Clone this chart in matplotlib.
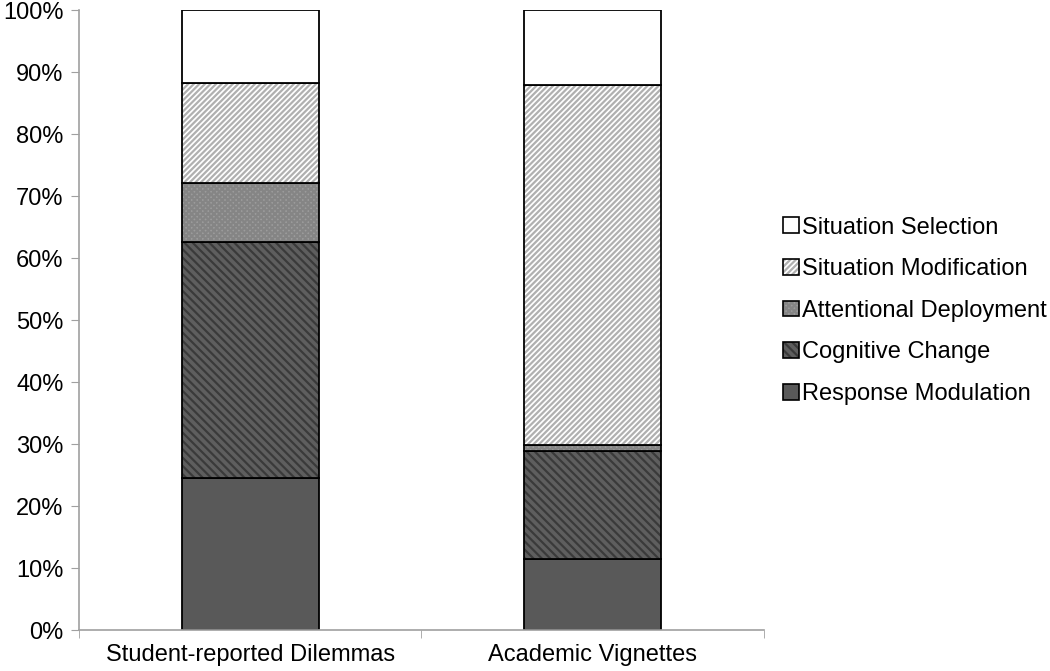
import matplotlib.pyplot as plt
from matplotlib.legend_handler import HandlerTuple
import numpy as np

plt.rcParams['font.family'] = ['Liberation Sans', 'DejaVu Sans']
plt.rcParams['hatch.linewidth'] = 1.6

categories = ["Student-reported Dilemmas", "Academic Vignettes"]
series = ["Response Modulation", "Cognitive Change", "Attentional Deployment",
          "Situation Modification", "Situation Selection"]
response = [24.5, 11.5]
cognitive = [38.1, 17.4]
attentional = [9.5, 0.9]
modification = [16.1, 58.1]
selection = [11.8, 12.1]

# fill colour, hatch, hatch colour
styles = [
    ("#595959", None, "#595959"),
    ("#5e5e5e", "\\\\\\\\", "#3a3a3a"),
    ("#9c9c9c", "xxxxxx", "#858585"),
    ("white", "//////", "#b0b0b0"),
    ("white", None, "white"),
]

fig = plt.figure(figsize=(10.5, 6.71), dpi=100)
ax = fig.add_axes([0.0752, 0.061, 0.652, 0.924])

x = np.arange(len(categories))
w = 0.4
bottom = np.zeros(len(categories))
handles = []
for vals, name, (fc, h, hc) in zip([response, cognitive, attentional, modification, selection], series, styles):
    vals = np.array(vals)
    ax.bar(x, vals, w, bottom=bottom, color=fc, hatch=h, edgecolor=hc, linewidth=0)
    ax.bar(x, vals, w, bottom=bottom, fill=False, edgecolor="black", linewidth=1.3)
    inner = plt.Rectangle((0, 0), 1, 1, facecolor=fc, hatch=h, edgecolor=hc, linewidth=0)
    outer = plt.Rectangle((0, 0), 1, 1, fill=False, edgecolor="black", linewidth=1.2)
    handles.append((inner, outer))
    bottom += vals

ax.set_xlim(-0.5, 1.5)
ax.set_ylim(0, 100)
ax.set_yticks(np.arange(0, 101, 10))
ax.set_yticklabels([f"{v}%" for v in range(0, 101, 10)], fontsize=17)
ax.set_xticks(x)
ax.set_xticklabels(categories, fontsize=17)
ax.tick_params(axis='x', which='major', length=0, pad=10)
ax.set_xticks([-0.5, 0.5, 1.5], minor=True)
ax.tick_params(axis='x', which='minor', length=6, color="#a0a0a0")
ax.tick_params(axis='y', length=6, color="#a0a0a0", pad=5)
for s in ["top", "right"]:
    ax.spines[s].set_visible(False)
for s in ["left", "bottom"]:
    ax.spines[s].set_color("#a0a0a0")
    ax.spines[s].set_linewidth(1.2)

ax.legend(handles[::-1], series[::-1], loc="center left", bbox_to_anchor=(0.998, 0.515),
          frameon=False, fontsize=17, handlelength=0.65, handleheight=0.65,
          handletextpad=0.15, labelspacing=0.83,
          handler_map={tuple: HandlerTuple(ndivide=1, pad=0)})

fig.savefig("out.png", dpi=100)
